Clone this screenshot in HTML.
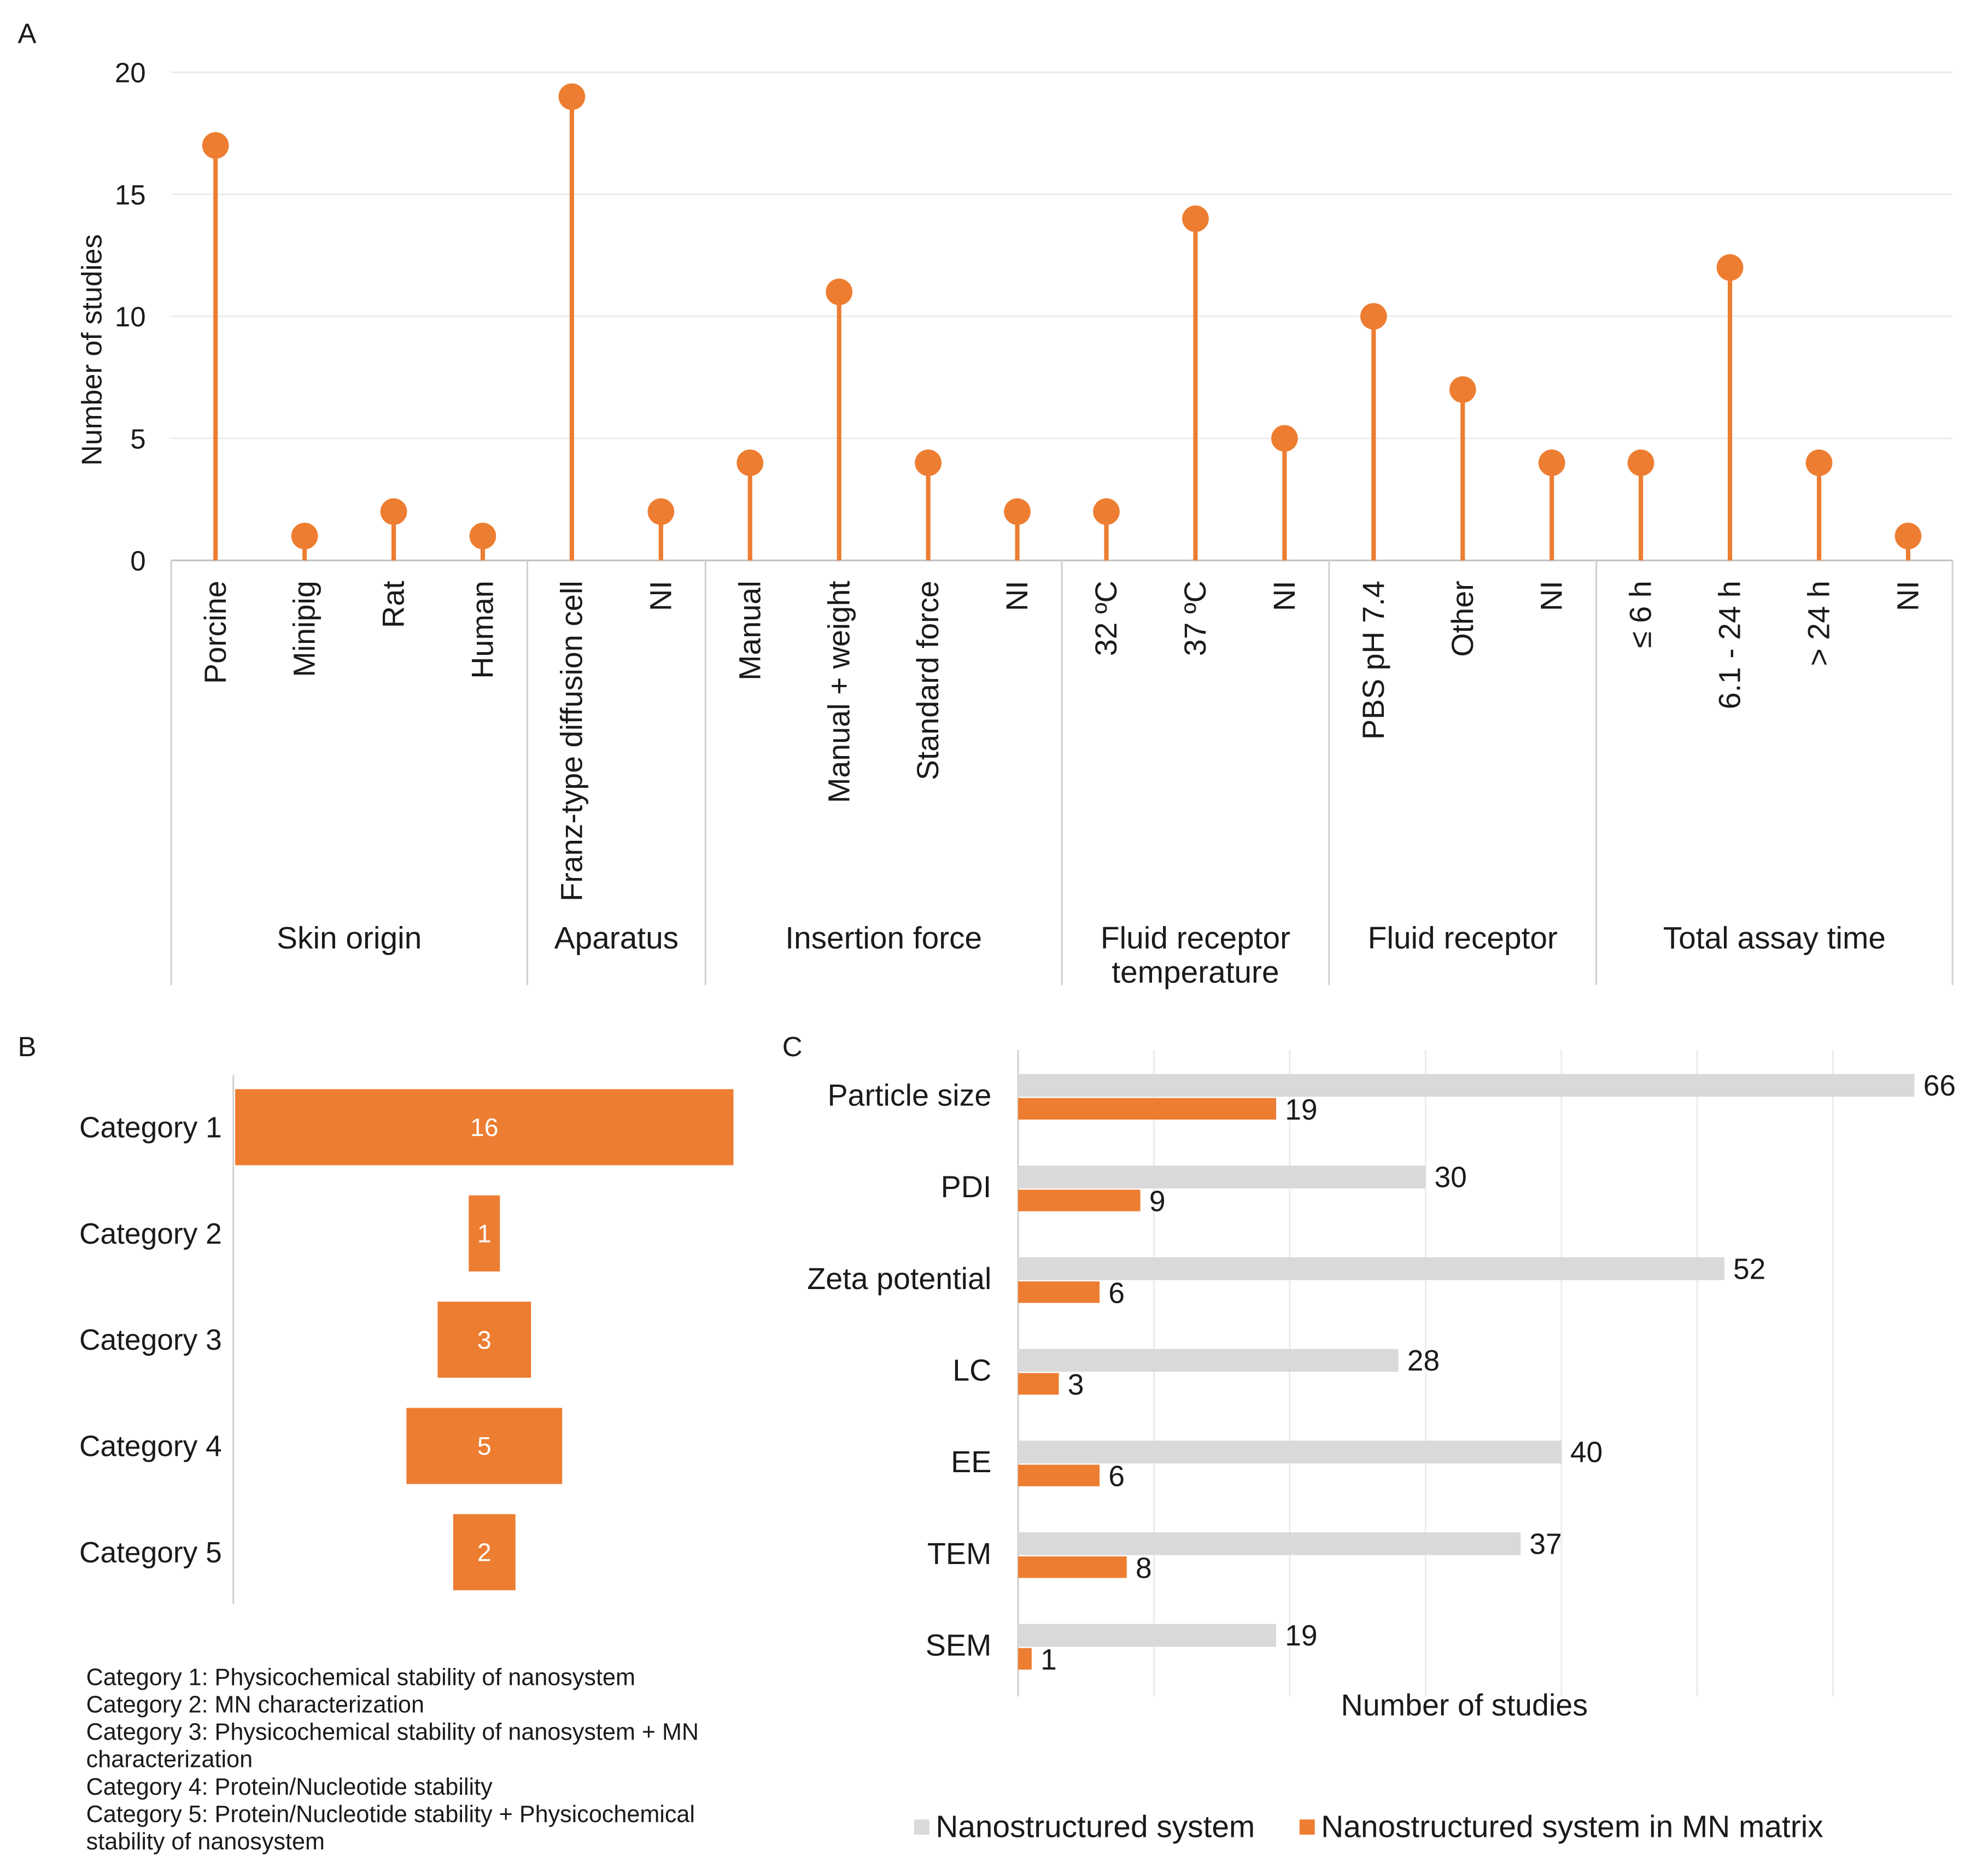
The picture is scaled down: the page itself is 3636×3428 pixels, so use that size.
<!DOCTYPE html>
<html><head><meta charset="utf-8"><style>
html,body{margin:0;padding:0;background:#fff}
svg{display:block;font-family:"Liberation Sans",Arial,sans-serif}
</style></head><body>
<svg id="fig" width="3636" height="3428" viewBox="0 0 1568 1478" preserveAspectRatio="none">
<rect width="1568" height="1478" fill="#fff"/>
<g id="pa"></g>
<g id="pb"></g>
<g id="pc"></g>
</svg>
<script>
// Panel A data
const aCategories=["Porcine","Minipig","Rat","Human","Franz-type diffusion cell","NI","Manual","Manual + weight","Standard force","NI","32 ºC","37 ºC","NI","PBS pH 7.4","Other","NI","≤ 6 h","6.1 - 24 h","> 24 h","NI"];
const aValues=[17,1,2,1,19,2,4,11,4,2,2,14,5,10,7,4,4,12,4,1];
const aTicks=[0,5,10,15,20];
const aGroups=["Skin origin","Aparatus","Insertion force","Fluid receptor|temperature","Fluid receptor","Total assay time"];
const aGroupSizes=[4,2,4,3,3,4];
// Panel B data
const bCategories=["Category 1","Category 2","Category 3","Category 4","Category 5"];
const bValues=[16,1,3,5,2];
const bNotes=["Category 1: Physicochemical stability of nanosystem","Category 2: MN characterization","Category 3: Physicochemical stability of nanosystem + MN","characterization","Category 4: Protein/Nucleotide stability","Category 5: Protein/Nucleotide stability + Physicochemical","stability of nanosystem"];
// Panel C data
const cCategories=["Particle size","PDI","Zeta potential","LC","EE","TEM","SEM"];
const cNano=[66,30,52,28,40,37,19];
const cMN=[19,9,6,3,6,8,1];
const cTicks=[0,10,20,30,40,50,60];

const NS="http://www.w3.org/2000/svg";
function mk(parent,tag,attrs,text){const e=document.createElementNS(NS,tag);for(const k in attrs)e.setAttribute(k,attrs[k]);if(text!==undefined)e.textContent=text;parent.appendChild(e);return e;}
const OR="#ED7D31",GR="#D9D9D9",TX="#1a1a1a";
const svg=document.getElementById('fig');
let t;
t=mk(svg,'text',{x:14,y:34,'font-size':22,fill:TX},'A');
t=mk(svg,'text',{x:14,y:833,'font-size':22,fill:TX},'B');
t=mk(svg,'text',{x:617,y:833,'font-size':22,fill:TX},'C');

// ---- Panel A
const pa=document.getElementById('pa');
const ay=v=>442-v*(385/20);
const ax=i=>170+i*((1505-170)/19);
aTicks.forEach(v=>{
  const l=mk(pa,'line',{x1:135,x2:1540,y1:ay(v),y2:ay(v),stroke:v===0?'#bfbfbf':'#ececec','stroke-width':1.3});
  
  const tx=mk(pa,'text',{x:115,y:ay(v)+8,'font-size':22,'text-anchor':'end',fill:TX},v);
  
});
t=mk(pa,'text',{transform:'translate(80,276) rotate(-90)','font-size':22.5,'text-anchor':'middle',fill:TX},'Number of studies');

aCategories.forEach((c,i)=>{
  const x=ax(i);
  const s=mk(pa,'line',{x1:x,x2:x,y1:442,y2:ay(aValues[i]),stroke:OR,'stroke-width':3.5});
  
  const d=mk(pa,'circle',{cx:x,cy:ay(aValues[i]),r:10.5,fill:OR});
  
  const l=mk(pa,'text',{transform:`translate(${x+8},458) rotate(-90)`,'font-size':24,'text-anchor':'end',fill:TX},c);
  
});
let start=0;const half=(1505-170)/19/2;
const sepx=[135];
aGroupSizes.forEach((n,g)=>{
  const x0=g===0?135:ax(start)-half, x1=g===aGroupSizes.length-1?1540:ax(start+n-1)+half;
  sepx.push(x1);
  const lines=aGroups[g].split('|');
  lines.forEach((ln,k)=>{
    const tx=mk(pa,'text',{x:(x0+x1)/2,y:748+k*27,'font-size':24.5,'text-anchor':'middle',fill:TX},ln);
    
  });
  start+=n;
});
sepx.forEach(x=>{const l=mk(pa,'line',{x1:x,x2:x,y1:442,y2:777,stroke:'#d0d0d0','stroke-width':1.3});});

// ---- Panel B
const pb=document.getElementById('pb');
const bw=v=>v*(393/16);
const by=i=>889+i*83.8;
t=mk(pb,'line',{x1:184,x2:184,y1:848,y2:1265,stroke:'#d0d0d0','stroke-width':1.3});
bCategories.forEach((c,i)=>{
  const w=bw(bValues[i]);
  const r=mk(pb,'rect',{x:382-w/2,y:by(i)-30,width:w,height:60,fill:OR});
  
  const v=mk(pb,'text',{x:382,y:by(i)+7,'font-size':20,'text-anchor':'middle',fill:'#fff'},bValues[i]);
  
  const l=mk(pb,'text',{x:175,y:by(i)+8,'font-size':23,'text-anchor':'end',fill:TX},c);
  
});
bNotes.forEach((n,i)=>{
  const tx=mk(pb,'text',{x:68,y:1329+i*21.6,'font-size':18.6,fill:TX},n);
  
});

// ---- Panel C
const pc=document.getElementById('pc');
const cx=v=>803+v*(707/66);
const cy=i=>856+i*72.3;
cTicks.forEach(v=>{const l=mk(pc,'line',{x1:cx(v),x2:cx(v),y1:828,y2:1338,stroke:v===0?'#cfcfcf':'#ececec','stroke-width':1.3});});
cCategories.forEach((c,i)=>{
  const y=cy(i);
  const g=mk(pc,'rect',{x:803,y:y-9,width:cx(cNano[i])-803,height:18,fill:GR});
  
  const o=mk(pc,'rect',{x:803,y:y+10,width:cx(cMN[i])-803,height:17,fill:OR});
  
  const v1=mk(pc,'text',{x:cx(cNano[i])+7,y:y+8,'font-size':23,fill:TX},cNano[i]);
  
  const v2=mk(pc,'text',{x:cx(cMN[i])+7,y:y+27,'font-size':23,fill:TX},cMN[i]);
  
  const l=mk(pc,'text',{x:782,y:y+16,'font-size':24,'text-anchor':'end',fill:TX},c);
  
});
t=mk(pc,'text',{x:1155,y:1353,'font-size':24,'text-anchor':'middle',fill:TX},'Number of studies');
t=mk(pc,'rect',{x:721,y:1435,width:12,height:12,fill:GR});
t=mk(pc,'text',{x:738,y:1449,'font-size':24.5,fill:TX},'Nanostructured system');
t=mk(pc,'rect',{x:1025,y:1435,width:12,height:12,fill:OR});
t=mk(pc,'text',{x:1042,y:1449,'font-size':24.5,fill:TX},'Nanostructured system in MN matrix');
</script>
</body></html>
